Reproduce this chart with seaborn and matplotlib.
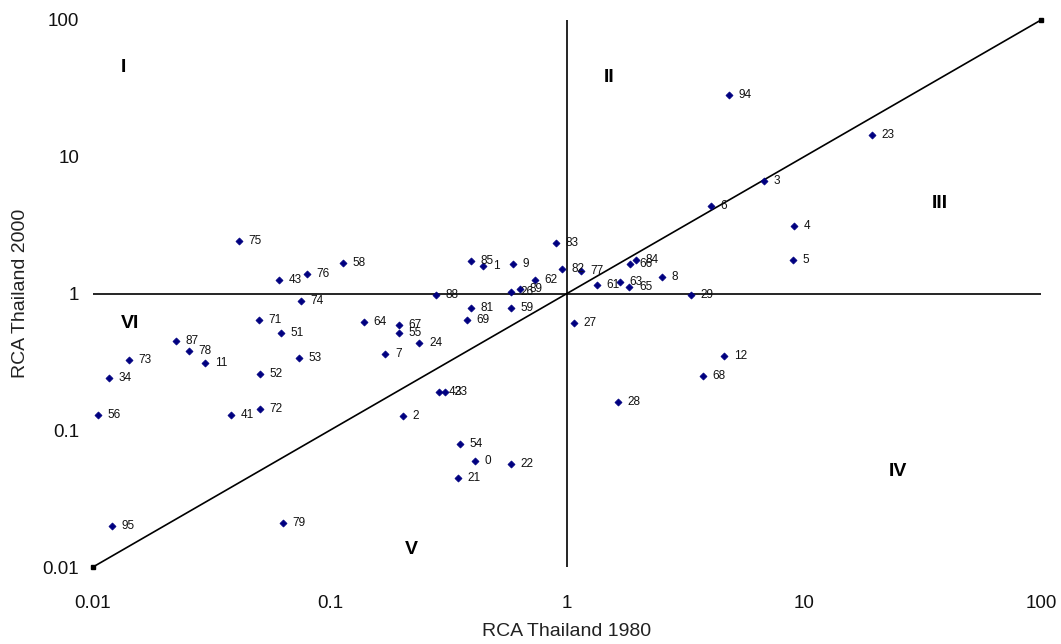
import matplotlib
matplotlib.use("Agg")
import matplotlib.pyplot as plt
import seaborn as sns
import pandas as pd

codes = ["75", "43", "76", "58", "74", "71", "51", "87", "78", "11", "73", "34", "53", "52",
         "56", "41", "72", "88", "85", "1", "9", "83", "82", "62", "89", "26", "81", "59",
         "69", "64", "67", "55", "24", "7", "42", "33", "2", "54", "0", "22", "21",
         "4", "5", "84", "66", "77", "8", "61", "63", "65", "29", "27", "12", "68", "28",
         "95", "79", "94", "23", "3", "6"]
rca_1980 = [0.0413, 0.061, 0.080, 0.1135, 0.0755, 0.050, 0.0621, 0.0224, 0.0254, 0.0297,
            0.0142, 0.0117, 0.074, 0.0507, 0.0105, 0.0382, 0.0507, 0.280, 0.394, 0.443,
            0.592, 0.90, 0.953, 0.733, 0.634, 0.581, 0.394, 0.581, 0.379, 0.139, 0.195,
            0.195, 0.238, 0.171, 0.288, 0.306, 0.203, 0.354, 0.409, 0.581, 0.347,
            9.08, 8.99, 1.95, 1.84, 1.146, 2.52, 1.34, 1.67, 1.83, 3.34, 1.07, 4.59, 3.75,
            1.64, 0.0120, 0.0633, 4.83, 19.4, 6.78, 4.05]
rca_2000 = [2.44, 1.265, 1.40, 1.66, 0.874, 0.645, 0.510, 0.446, 0.377, 0.308, 0.324,
            0.243, 0.335, 0.260, 0.130, 0.130, 0.142, 0.967, 1.74, 1.60, 1.63, 2.36, 1.50,
            1.245, 1.07, 1.017, 0.777, 0.777, 0.645, 0.614, 0.593, 0.510, 0.431, 0.364,
            0.192, 0.189, 0.128, 0.080, 0.060, 0.057, 0.0444,
            3.14, 1.77, 1.77, 1.63, 1.45, 1.31, 1.16, 1.22, 1.125, 0.967, 0.604, 0.352,
            0.251, 0.162, 0.0198, 0.0211, 28.5, 14.5, 6.7, 4.33]

quadrant_names = ["I", "II", "III", "IV", "V", "VI"]
quadrant_x = [0.0135, 1.5, 37.5, 25, 0.22, 0.0143]
quadrant_y = [45, 38, 4.55, 0.05, 0.0135, 0.6]

axis_ticks = [0.01, 0.1, 1, 10, 100]
tick_labels = ["0.01", "0.1", "1", "10", "100"]

df = pd.DataFrame({"code": codes, "x": rca_1980, "y": rca_2000})

sns.set_style("white")
plt.rcParams["font.family"] = ["Liberation Sans", "DejaVu Sans"]

fig = plt.figure(figsize=(10.61, 6.44), dpi=100)
ax = fig.add_axes([93 / 1061, 1 - 567 / 644, (1041 - 93) / 1061, (567 - 20) / 644])

ax.set_xscale("log")
ax.set_yscale("log")
ax.set_xlim(0.01, 100)
ax.set_ylim(0.01, 100)

# reference lines
ax.plot([0.01, 100], [1, 1], color="black", lw=1.2, zorder=1)
ax.plot([1, 1], [0.01, 100], color="black", lw=1.2, zorder=1)
ax.plot([0.01, 100], [0.01, 100], color="black", lw=1.2, marker="s", markersize=3,
        zorder=1, clip_on=False)

sns.scatterplot(data=df, x="x", y="y", ax=ax, marker="D", s=13, color="#000080",
                edgecolor="#000080", linewidth=0.5, zorder=3, legend=False)

for c, xv, yv in zip(df["code"], df["x"], df["y"]):
    ax.annotate(c, (xv, yv), xytext=(7, 0), textcoords="offset points",
                va="center", ha="left", fontsize=8.5, color="#111111")

for name, qx, qy in zip(quadrant_names, quadrant_x, quadrant_y):
    ax.text(qx, qy, name, fontsize=14, fontweight="bold", ha="center", va="center",
            color="black")

for s in ax.spines.values():
    s.set_visible(False)

ax.set_xticks(axis_ticks)
ax.set_xticklabels(tick_labels)
ax.set_yticks(axis_ticks)
ax.set_yticklabels(tick_labels)
ax.minorticks_off()
ax.tick_params(axis="x", length=0, pad=20, labelsize=13.5, labelcolor="#111111")
ax.tick_params(axis="y", length=0, pad=10, labelsize=13.5, labelcolor="#111111")
ax.set_xlabel("RCA Thailand 1980", fontsize=14, labelpad=8, color="#222222")
ax.set_ylabel("RCA Thailand 2000", fontsize=14, labelpad=10, color="#222222")
ax.grid(False)

fig.savefig("out.png", dpi=100)
